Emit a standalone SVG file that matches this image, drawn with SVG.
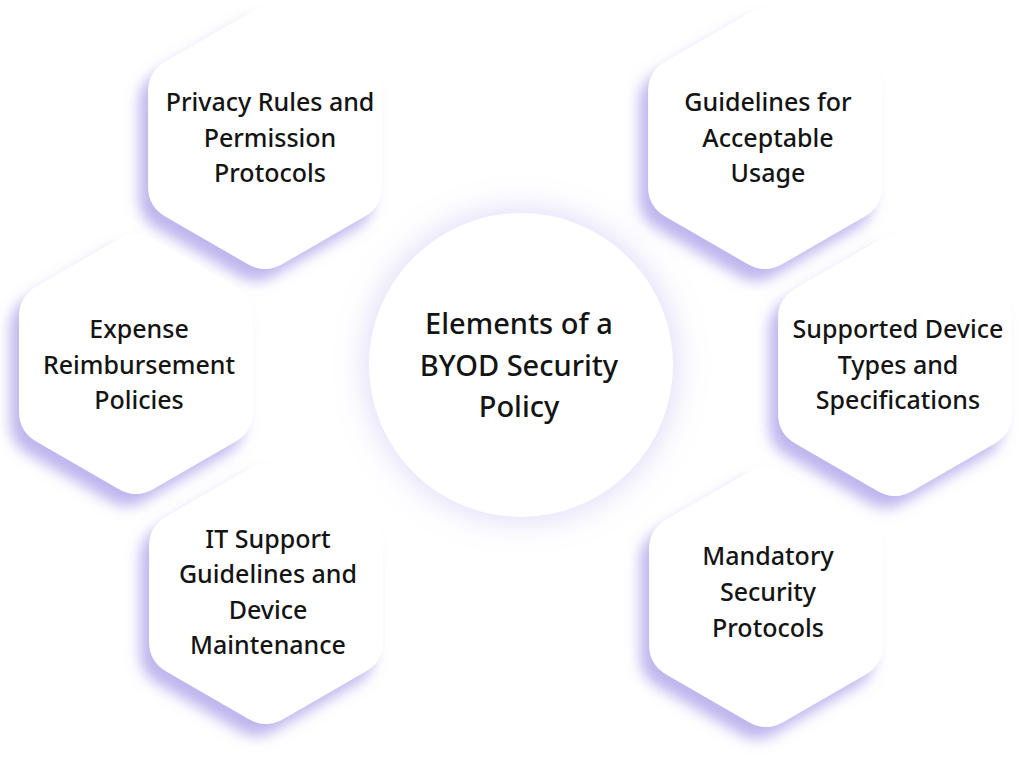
<svg xmlns="http://www.w3.org/2000/svg" xmlns:xlink="http://www.w3.org/1999/xlink" width="1024" height="766" viewBox="0 0 1024 766">
<style>
.lbl{font-family:"Noto Sans","Open Sans","Liberation Sans",sans-serif;font-weight:500;font-size:25px;fill:#141414;text-anchor:middle}
.ctr{font-family:"Noto Sans","Open Sans","Liberation Sans",sans-serif;font-weight:500;font-size:29px;fill:#141414;text-anchor:middle}
.hex{fill:#ffffff;filter:url(#hs)}
</style>
<defs>
<filter id="hs" x="-30%" y="-30%" width="160%" height="160%">
<feDropShadow dx="-9" dy="12" stdDeviation="7" flood-color="#8a7ae0" flood-opacity="0.55"/>
</filter>
<filter id="cs" x="-30%" y="-30%" width="160%" height="160%">
<feDropShadow dx="0" dy="0" stdDeviation="16" flood-color="#a89ce8" flood-opacity="0.4"/>
</filter>
<path id="hx" d="M17.32,-125 L99.59,-77.5 Q116.91,-67.5 116.91,-47.5 L116.91,47.5 Q116.91,67.5 99.59,77.5 L17.32,125 Q0,135 -17.32,125 L-99.59,77.5 Q-116.91,67.5 -116.91,47.5 L-116.91,-47.5 Q-116.91,-67.5 -99.59,-77.5 L-17.32,-125 Q0,-135 17.32,-125 Z"/>
</defs>
<rect width="1024" height="766" fill="#ffffff"/>
<g id="connectors"></g>
<g id="node-privacy">
<use xlink:href="#hx" href="#hx" class="hex" transform="translate(265,139)"/>
<text class="lbl" x="270" y="111">Privacy Rules and</text>
<text class="lbl" x="270" y="147">Permission</text>
<text class="lbl" x="270" y="182">Protocols</text>
</g>
<g id="node-guidelines">
<use xlink:href="#hx" href="#hx" class="hex" transform="translate(765,139)"/>
<text class="lbl" x="768" y="111">Guidelines for</text>
<text class="lbl" x="768" y="147">Acceptable</text>
<text class="lbl" x="768" y="182">Usage</text>
</g>
<g id="node-expense">
<use xlink:href="#hx" href="#hx" class="hex" transform="translate(136,364)"/>
<text class="lbl" x="139" y="338">Expense</text>
<text class="lbl" x="139" y="374">Reimbursement</text>
<text class="lbl" x="139" y="409">Policies</text>
</g>
<g id="node-supported">
<use xlink:href="#hx" href="#hx" class="hex" transform="translate(895,366)"/>
<text class="lbl" x="898" y="338">Supported Device</text>
<text class="lbl" x="898" y="374">Types and</text>
<text class="lbl" x="898" y="409">Specifications</text>
</g>
<g id="node-itsupport">
<use xlink:href="#hx" href="#hx" class="hex" transform="translate(266,594)"/>
<text class="lbl" x="268" y="548">IT Support</text>
<text class="lbl" x="268" y="583">Guidelines and</text>
<text class="lbl" x="268" y="619">Device</text>
<text class="lbl" x="268" y="654">Maintenance</text>
</g>
<g id="node-mandatory">
<use xlink:href="#hx" href="#hx" class="hex" transform="translate(766,597)"/>
<text class="lbl" x="768" y="565">Mandatory</text>
<text class="lbl" x="768" y="601">Security</text>
<text class="lbl" x="768" y="637">Protocols</text>
</g>
<g id="node-center">
<circle cx="521" cy="365" r="153" fill="#ffffff" stroke="#eeebfb" stroke-width="2" filter="url(#cs)"/>
<text class="ctr" x="519" y="334">Elements of a</text>
<text class="ctr" x="519" y="376">BYOD Security</text>
<text class="ctr" x="519" y="417">Policy</text>
</g>
</svg>
